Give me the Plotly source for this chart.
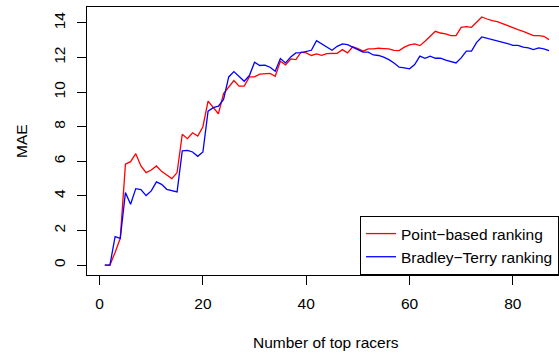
import plotly.graph_objects as go

# Number of top racers
racers = list(range(1, 88))

# MAE, point-based ranking (red)
point_based = [
    0.00, 0.00, 0.73, 1.55, 5.83, 5.98, 6.44, 5.73, 5.35, 5.50,
    5.73, 5.42, 5.21, 5.00, 5.35, 7.56, 7.31, 7.65, 7.46, 8.00,
    9.48, 9.10, 8.75, 9.92, 10.30, 10.67, 10.35, 10.35, 10.88, 10.88,
    11.04, 11.08, 11.08, 10.92, 11.79, 11.58, 11.92, 11.88, 12.31, 12.27,
    12.12, 12.21, 12.13, 12.23, 12.23, 12.25, 12.46, 12.27, 12.62, 12.52,
    12.37, 12.50, 12.50, 12.54, 12.52, 12.50, 12.42, 12.40, 12.60, 12.73,
    12.79, 12.69, 12.94, 13.23, 13.52, 13.42, 13.37, 13.27, 13.27, 13.75,
    13.79, 13.75, 14.04, 14.35, 14.23, 14.13, 14.08, 13.96, 13.85, 13.71,
    13.62, 13.52, 13.38, 13.27, 13.27, 13.23, 13.04,
]

# MAE, Bradley-Terry ranking (blue)
bradley_terry = [
    0.00, 0.00, 1.65, 1.54, 4.19, 3.52, 4.42, 4.37, 4.02, 4.29,
    4.81, 4.67, 4.38, 4.31, 4.23, 6.60, 6.63, 6.54, 6.29, 6.54,
    8.90, 9.10, 9.19, 9.58, 10.88, 11.19, 10.92, 10.63, 10.96, 11.73,
    11.54, 11.56, 11.44, 11.21, 11.94, 11.69, 12.04, 12.27, 12.29, 12.37,
    12.42, 12.98, 12.79, 12.62, 12.42, 12.65, 12.79, 12.75, 12.62, 12.46,
    12.31, 12.31, 12.15, 12.12, 12.02, 11.88, 11.69, 11.44, 11.40, 11.35,
    11.60, 12.08, 11.96, 12.08, 11.96, 11.96, 11.85, 11.79, 11.69, 11.98,
    12.37, 12.37, 12.88, 13.19, 13.12, 13.04, 12.98, 12.88, 12.81, 12.71,
    12.71, 12.60, 12.56, 12.46, 12.56, 12.50, 12.40,
]

x_ticks = [0, 20, 40, 60, 80]
y_ticks = [0, 2, 4, 6, 8, 10, 12, 14]

FONT = "Liberation Sans, Arial, Helvetica, sans-serif"
FS = 15.5

fig = go.Figure()
fig.add_trace(go.Scatter(x=racers, y=point_based, mode="lines",
                         name="Point\u2212based ranking",
                         line=dict(color="#FF0000", width=1.3)))
fig.add_trace(go.Scatter(x=racers, y=bradley_terry, mode="lines",
                         name="Bradley\u2212Terry ranking",
                         line=dict(color="#0000FF", width=1.3)))

fig.update_layout(
    width=559, height=354,
    margin=dict(l=87, r=0, t=7, b=79, pad=0, autoexpand=False),
    paper_bgcolor="white", plot_bgcolor="white",
    font=dict(family=FONT, size=FS, color="black"),
    showlegend=True,
    legend=dict(x=1, xanchor="right", y=0, yanchor="bottom",
                bgcolor="white", bordercolor="black", borderwidth=1,
                font=dict(family=FONT, size=FS, color="black"),
                tracegroupgap=0),
    xaxis=dict(range=[-2.44, 88.94], tickmode="array", tickvals=x_ticks,
               ticktext=[str(v) for v in x_ticks],
               showgrid=False, zeroline=False,
               showline=True, linecolor="black", linewidth=1, mirror=True,
               ticks="outside", ticklen=9, tickwidth=1, tickcolor="black",
               ticklabelstandoff=5,
               tickfont=dict(family=FONT, size=FS, color="black")),
    yaxis=dict(range=[-0.574, 14.924], tickmode="array", tickvals=y_ticks,
               ticktext=[str(v) for v in y_ticks],
               showgrid=False, zeroline=False,
               showline=True, linecolor="black", linewidth=1, mirror=False,
               ticks="outside", ticklen=9, tickwidth=1, tickcolor="black",
               tickangle=-90, ticklabelstandoff=6,
               tickfont=dict(family=FONT, size=FS, color="black")),
    annotations=[
        dict(text="Number of top racers", xref="paper", yref="paper",
             x=0.507, y=-0.25, xanchor="center", yanchor="middle",
             showarrow=False, font=dict(family=FONT, size=FS, color="black")),
        dict(text="MAE", xref="paper", yref="paper",
             x=-0.14, y=0.5, xanchor="center", yanchor="middle",
             textangle=-90, showarrow=False,
             font=dict(family=FONT, size=FS, color="black")),
    ],
)

fig.write_html("out.html")
